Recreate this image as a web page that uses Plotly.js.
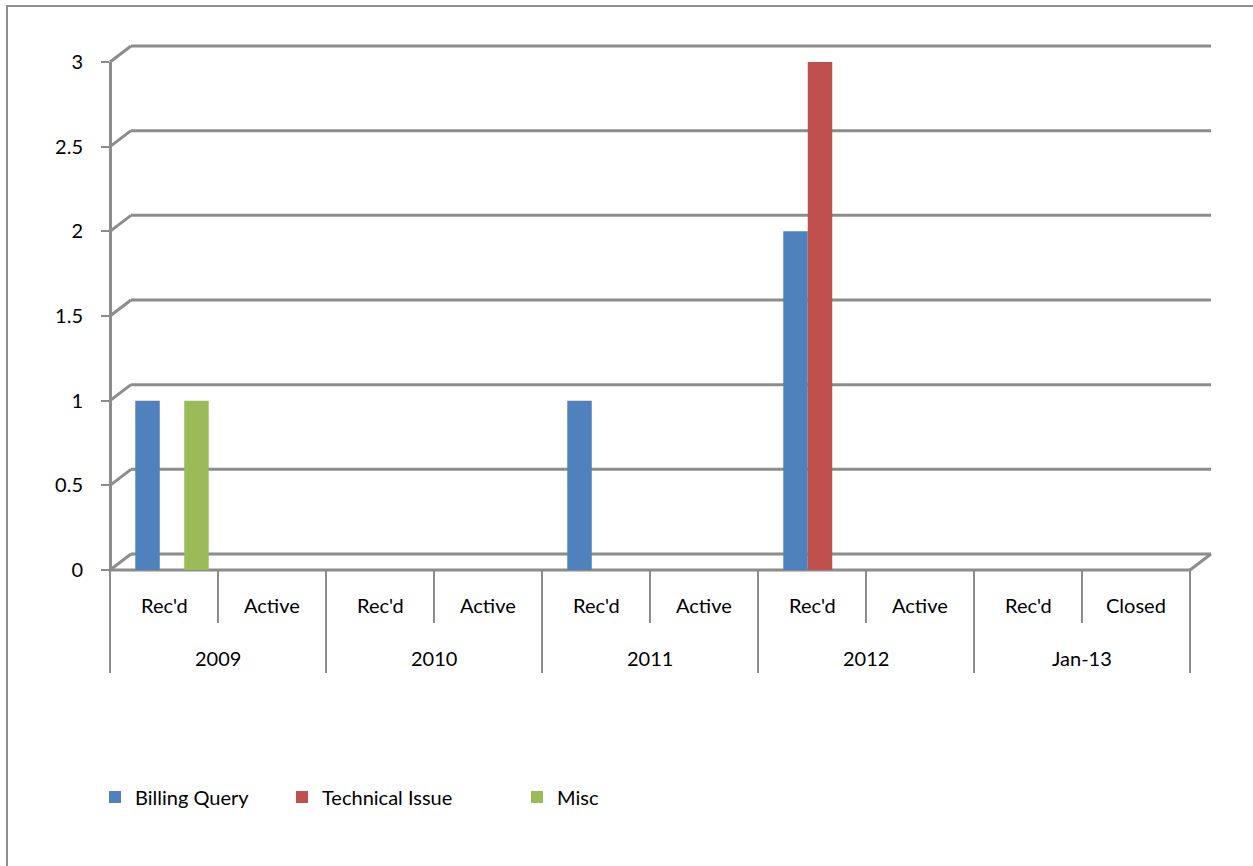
<!DOCTYPE html>
<html>
<head>
<meta charset="utf-8">
<script src="https://cdn.plot.ly/plotly-3.0.1.min.js"></script>
<style>
  html, body { margin: 0; padding: 0; background: #fff; }
  #wrap { position: relative; width: 1253px; height: 866px; overflow: hidden; }
  #frame { position: absolute; left: 6px; top: 5px; width: 1300px; height: 900px;
           border-left: 2px solid #8e8e8e; border-top: 2px solid #8e8e8e; pointer-events: none; z-index: 5; }
  #chart { position: absolute; left: 0; top: 0; width: 1253px; height: 866px; }
</style>
</head>
<body>
<div id="wrap">
  <div id="chart"></div>
  <div id="frame"></div>
</div>
<script>
// ---- data ----
const periods   = ["2009", "2009", "2010", "2010", "2011", "2011", "2012", "2012", "Jan-13", "Jan-13"];
const statuses  = ["Rec'd", "Active", "Rec'd", "Active", "Rec'd", "Active", "Rec'd", "Active", "Rec'd", "Closed"];
const billingQuery   = [1, 0, 0, 0, 1, 0, 2, 0, 0, 0];
const technicalIssue = [0, 0, 0, 0, 0, 0, 3, 0, 0, 0];
const misc           = [1, 0, 0, 0, 0, 0, 0, 0, 0, 0];
const seriesNames  = ["Billing Query", "Technical Issue", "Misc"];
const yTickValues  = [0, 0.5, 1, 1.5, 2, 2.5, 3];
const yMax = 3;

// ---- styling ----
const colors     = ["#4F81BD", "#C0504D", "#9BBB59"];
const gridColor  = "#8c8c8c";
const fontFamily = "Lato, 'Open Sans', 'Liberation Sans', sans-serif";
const fontSize   = 20;

const W = 1253, H = 866;
const m = { l: 110, r: 42, t: 46, b: 296 };
const pw = W - m.l - m.r;   // paper width  (px)
const ph = H - m.t - m.b;   // paper height (px)
const depthX = 21, depthY = 16;   // back-wall offset (px)
const barShiftX = 8;
const F = (pw - depthX) / pw;     // front-plane width as paper fraction
const legendX = [95, 282, 517];   // legend box left edges (px)

const xcat = [periods, statuses];
const seriesValues = [billingQuery, technicalIssue, misc];
const legendIds = ["legend", "legend2", "legend3"];

const traces = seriesValues.map((vals, i) => ({
  type: "bar", name: seriesNames[i], x: xcat, y: vals,
  xaxis: "x", yaxis: "y", legend: legendIds[i],
  marker: { color: colors[i], line: { width: 0 } },
  hoverinfo: "x+y+name"
}));

const shapes = [];
const gl = { color: gridColor, width: 3 };
yTickValues.forEach(v => {
  // back wall gridline
  shapes.push({
    type: "line", xref: "paper", x0: depthX / pw, x1: 1,
    yref: "y domain", ysizemode: "pixel", yanchor: v / yMax, y0: depthY, y1: depthY,
    line: gl, layer: "below"
  });
  // side wall connector
  shapes.push({
    type: "line", xref: "paper", xsizemode: "pixel", xanchor: 0, x0: 0, x1: depthX,
    yref: "y domain", ysizemode: "pixel", yanchor: v / yMax, y0: 0, y1: depthY,
    line: gl, layer: "below"
  });
});
// floor front edge and right edge
shapes.push({
  type: "line", xref: "paper", x0: 0, x1: F,
  yref: "y domain", y0: 0, y1: 0, line: gl, layer: "below"
});
shapes.push({
  type: "line", xref: "paper", xsizemode: "pixel", xanchor: F, x0: 0, x1: depthX,
  yref: "y domain", ysizemode: "pixel", yanchor: 0, y0: 0, y1: depthY,
  line: gl, layer: "below"
});

// category dividers and labels
const nCat = statuses.length;
const annotations = [];
for (let i = 0; i <= nCat; i++) {
  const groupEdge = (i === 0 || i === nCat || periods[i] !== periods[i - 1]);
  shapes.push({
    type: "line", xref: "paper", x0: F * i / nCat, x1: F * i / nCat,
    yref: "y domain", ysizemode: "pixel", yanchor: 0, y0: 0, y1: groupEdge ? -103 : -53,
    line: { color: gridColor, width: 2 }
  });
}
statuses.forEach((s, i) => {
  annotations.push({
    text: s, showarrow: false, xref: "paper", x: F * (i + 0.5) / nCat, xanchor: "center",
    yref: "y domain", y: 0, yanchor: "middle", yshift: -35,
    font: { family: fontFamily, size: fontSize, color: "#000" }
  });
});
let start = 0;
for (let i = 1; i <= nCat; i++) {
  if (i === nCat || periods[i] !== periods[start]) {
    annotations.push({
      text: periods[start], showarrow: false, xref: "paper", x: F * ((start + i) / 2) / nCat,
      xanchor: "center", yref: "y domain", y: 0, yanchor: "middle", yshift: -88,
      font: { family: fontFamily, size: fontSize, color: "#000" }
    });
    start = i;
  }
}

const legendY = -(797 - (H - m.b)) / ph;
const legendBase = {
  orientation: "h", xanchor: "left", y: legendY, yanchor: "middle",
  font: { family: fontFamily, size: fontSize, color: "#000" }, itemwidth: 30,
  bgcolor: "rgba(0,0,0,0)"
};

const layout = {
  width: W, height: H,
  margin: m,
  paper_bgcolor: "#fff", plot_bgcolor: "rgba(0,0,0,0)",
  font: { family: fontFamily, size: fontSize, color: "#000" },
  barmode: "group", bargap: 0.32, bargroupgap: 0,
  showlegend: true,
  legend:  Object.assign({}, legendBase, { x: (legendX[0] - m.l) / pw }),
  legend2: Object.assign({}, legendBase, { x: (legendX[1] - m.l) / pw }),
  legend3: Object.assign({}, legendBase, { x: (legendX[2] - m.l) / pw }),
  xaxis: {
    type: "multicategory", domain: [barShiftX / pw, F + barShiftX / pw], anchor: "y",
    range: [-0.5, nCat - 0.5], visible: false, fixedrange: true
  },
  yaxis: {
    domain: [0, (ph - depthY) / ph], anchor: "free", position: 0, range: [0, yMax],
    tickvals: yTickValues,
    showline: true, linecolor: gridColor, linewidth: 3,
    ticks: "outside", ticklen: 8, tickcolor: gridColor, tickwidth: 2,
    showgrid: false, zeroline: false,
    tickfont: { family: fontFamily, size: fontSize, color: "#000" },
    ticklabelstandoff: 14, fixedrange: true
  },
  shapes: shapes,
  annotations: annotations
};

Plotly.newPlot("chart", traces, layout, { displayModeBar: false, staticPlot: true });
</script>
</body>
</html>
